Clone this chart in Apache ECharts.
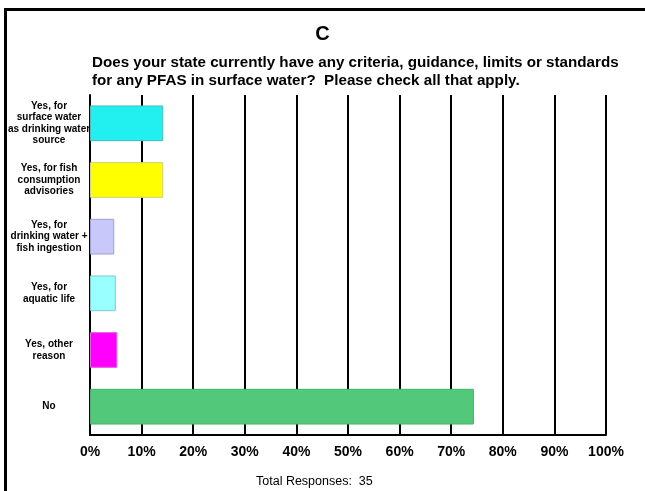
<!DOCTYPE html>
<html>
<head>
<meta charset="utf-8">
<script src="https://cdn.jsdelivr.net/npm/echarts@6/dist/echarts.min.js"></script>
<style>
  html, body { margin: 0; padding: 0; background: #fff; }
  #chart { width: 645px; height: 491px; }
</style>
</head>
<body>
<div id="chart"></div>
<script>
  // categories listed bottom-to-top (category y axis starts at the bottom)
  const categories = [
    'No',
    'Yes, other\nreason',
    'Yes, for\naquatic life',
    'Yes, for\ndrinking water +\nfish ingestion',
    'Yes, for fish\nconsumption\nadvisories',
    'Yes, for\nsurface water\nas drinking water\nsource'
  ];
  const percents = [74.4, 5.3, 5.0, 4.7, 14.2, 14.2];
  const barColors = ['#52c97a', '#ff00ff', '#99ffff', '#c8c8fa', '#ffff00', '#22f0f0'];
  const barBorders = ['#48b06a', '#e060e0', '#80caca', '#a0a0d0', '#d0d080', '#50b8b8'];
  const xTicks = [0, 10, 20, 30, 40, 50, 60, 70, 80, 90, 100];

  const chart = echarts.init(document.getElementById('chart'));

  const option = {
    animation: false,
    backgroundColor: '#fff',
    title: [{
      text: 'C',
      left: 'center',
      top: 19,
      textStyle: {fontFamily: 'Liberation Sans, Arial', fontSize: 20, fontWeight: 'bold', color: '#000'}
    }, {
      text: 'Does your state currently have any criteria, guidance, limits or standards\nfor any PFAS in surface water?  Please check all that apply.',
      left: 87,
      top: 49,
      textStyle: {fontFamily: 'Liberation Sans, Arial', fontSize: 15.2, fontWeight: 'bold', color: '#000', lineHeight: 18}
    }, {
      text: 'Total Responses:  35',
      left: 251,
      top: 470,
      textStyle: {fontFamily: 'Liberation Sans, Arial', fontSize: 12.5, fontWeight: 'normal', color: '#000'}
    }],
    grid: {left: 90, right: 39, top: 95, bottom: 56},
    xAxis: {
      type: 'value',
      min: 0,
      max: 100,
      interval: 10,
      axisLine: {show: true, lineStyle: {color: '#000', width: 2}},
      axisTick: {show: false},
      splitLine: {show: true, lineStyle: {color: '#000', width: 2}},
      axisLabel: {
        margin: 10,
        color: '#000',
        fontFamily: 'Liberation Sans, Arial',
        fontSize: 14,
        fontWeight: 'bold',
        formatter: v => xTicks.includes(v) ? v + '%' : ''
      }
    },
    yAxis: {
      type: 'category',
      data: categories,
      axisLine: {show: true, lineStyle: {color: '#000', width: 2}},
      axisTick: {show: false},
      axisLabel: {
        margin: 41,
        align: 'center',
        padding: [6, 0, 0, 0],
        color: '#000',
        fontFamily: 'Liberation Sans, Arial',
        fontSize: 10,
        fontWeight: 'bold',
        lineHeight: 11.5
      }
    },
    series: [{
      type: 'bar',
      barCategoryGap: '37%',
      data: percents.map((v, i) => ({
        value: v,
        itemStyle: {color: barColors[i], borderColor: barBorders[i], borderWidth: 1}
      }))
    }],
    graphic: [{
      type: 'rect',
      silent: true,
      shape: {x: 5.5, y: 9.5, width: 700, height: 600},
      style: {fill: 'none', stroke: '#000', lineWidth: 3}
    }]
  };

  chart.setOption(option);
</script>
</body>
</html>
